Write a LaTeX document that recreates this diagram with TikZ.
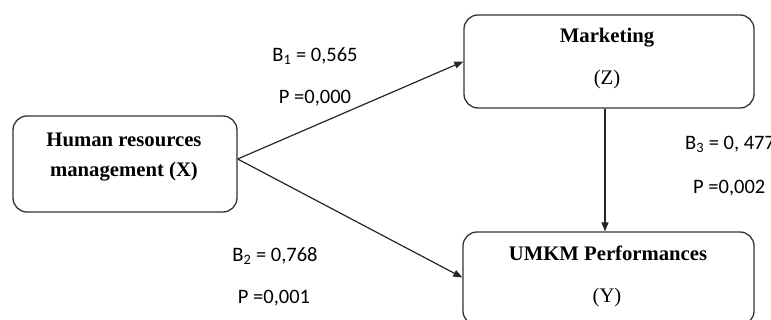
\documentclass[tikz,border=0pt]{standalone}
\usepackage{fontspec}
\setmainfont{Liberation Serif}
\newfontfamily\lblfont{Carlito}
\usetikzlibrary{arrows.meta}
\begin{document}
\begin{tikzpicture}[x=1pt,y=-1pt,
  box/.style={draw=black!80, line width=1.3pt, rounded corners=14pt, inner sep=0pt},
  boxtext/.style={font=\fontsize{20.7}{24}\selectfont\bfseries, inner sep=0pt, anchor=base},
  plaintext/.style={font=\fontsize{20.7}{24}\selectfont, inner sep=0pt, anchor=base},
  lbl/.style={font=\lblfont\fontsize{20.5}{24}\selectfont, inner sep=0pt, anchor=base},
  arr/.style={draw=black!85, line width=1.2pt, -{Triangle[length=9pt,width=7pt]}}]
\useasboundingbox (0,0) rectangle (771,320);
\clip (0,0) rectangle (771,320);
% boxes
\node[box, minimum width=224pt, minimum height=96pt] (hrm) at (125,164) {};
\node[box, minimum width=290pt, minimum height=93pt] (mkt) at (609,61.5) {};
\node[box, minimum width=291pt, minimum height=93pt] (perf) at (608.5,278.5) {};
% box texts
\node[boxtext] (hrm1) at (124,147) {Human resources};
\node[boxtext] (hrm2) at (124,177) {management (X)};
\node[boxtext] (mkt1) at (607,43) {Marketing};
\node[plaintext] (mkt2) at (607,85) {(Z)};
\node[boxtext] (perf1) at (608,261) {UMKM Performances};
\node[plaintext] (perf2) at (607,302) {(Y)};
% connectors
\draw[arr] ([yshift=5pt]hrm.east) -- (mkt.west);
\draw[arr] ([yshift=5pt]hrm.east) -- ([yshift=1pt]perf.west);
\draw[arr] ([xshift=-4pt]mkt.south) -- ([xshift=-3.5pt]perf.north);
% labels
\node[lbl] (b1) at (315,61.5) {B\textsubscript{1} = 0,565};
\node[lbl] (p1) at (315,103.5) {P =0,000};
\node[lbl] (b2) at (275,261.5) {B\textsubscript{2} = 0,768};
\node[lbl] (p2) at (274,303.5) {P =0,001};
\node[lbl, anchor=base west] (b3) at (685,149.5) {B\textsubscript{3} = 0, 477};
\node[lbl, anchor=base west] (p3) at (693,193.5) {P =0,002};
\end{tikzpicture}
\end{document}
